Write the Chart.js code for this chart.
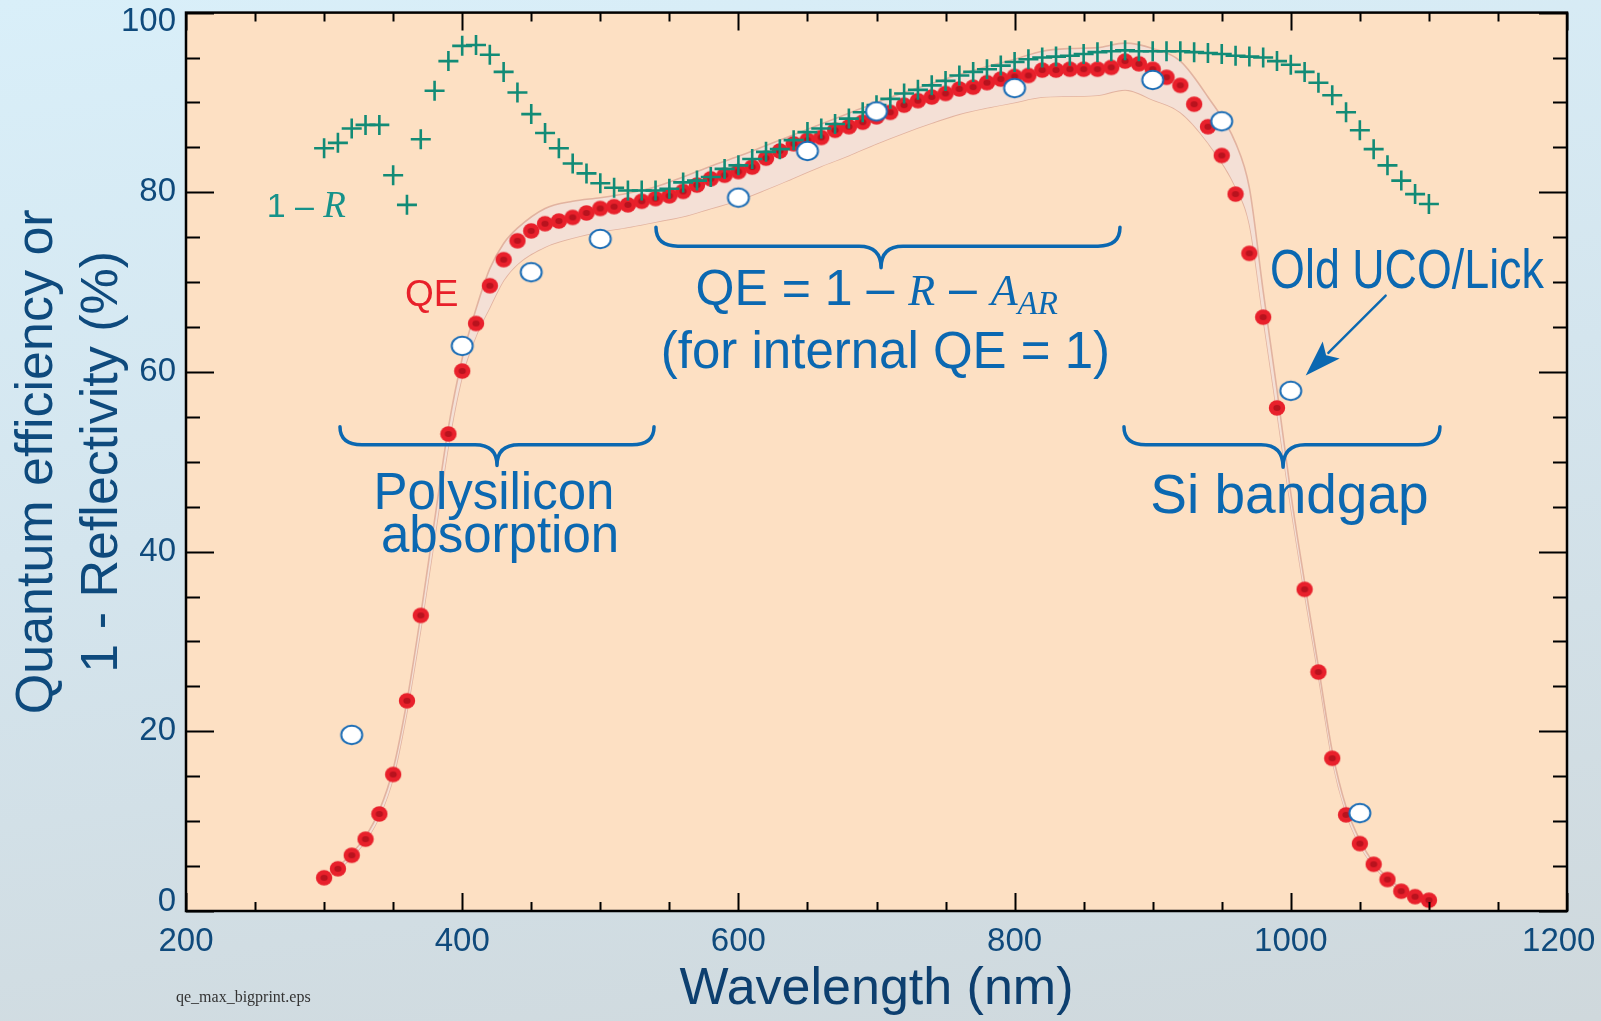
<!DOCTYPE html>
<html>
<head>
<meta charset="utf-8">
<script src="https://cdn.jsdelivr.net/npm/chart.js@4.4.0/dist/chart.umd.min.js"></script>
<style>
  html, body { margin: 0; padding: 0; }
  body {
    width: 1601px; height: 1021px; overflow: hidden;
    background: linear-gradient(172deg, #d9eff9 0%, #d4e5ee 45%, #cfd8dc 100%);
  }
  #wrap { position: relative; width: 1601px; height: 1021px; }
</style>
</head>
<body>
<div id="wrap"><canvas id="qeChart" width="1601" height="1021"></canvas></div>
<script>
// Wavelength grid (nm) of the measured curves
const wavelengths = [300, 310, 320, 330, 340, 350, 360, 370, 380, 390,
  400, 410, 420, 430, 440, 450, 460, 470, 480, 490,
  500, 510, 520, 530, 540, 550, 560, 570, 580, 590,
  600, 610, 620, 630, 640, 650, 660, 670, 680, 690,
  700, 710, 720, 730, 740, 750, 760, 770, 780, 790,
  800, 810, 820, 830, 840, 850, 860, 870, 880, 890,
  900, 910, 920, 930, 940, 950, 960, 970, 980, 990,
  1000, 1010, 1020, 1030, 1040, 1050, 1060, 1070, 1080, 1090, 1100];

// QE (%), red dots
const qeValues = [3.7, 4.7, 6.2, 8.0, 10.8, 15.2, 23.4, 32.9, null, 53.1,
  60.1, 65.4, 69.6, 72.5, 74.6, 75.7, 76.5, 76.8, 77.2, 77.7,
  78.2, 78.4, 78.6, 79.0, 79.3, 79.6, 80.1, 80.8, 81.5, 81.9,
  82.3, 82.8, 83.8, 84.6, 85.4, 85.8, 86.1, 86.9, 87.3, 87.8,
  88.4, 88.9, 89.7, 90.2, 90.6, 91.0, 91.5, 91.7, 92.2, 92.6,
  92.9, 93.0, 93.6, 93.6, 93.7, 93.7, 93.7, 93.9, 94.6, 94.3,
  93.7, 92.8, 91.9, 89.8, 87.3, 84.1, 79.8, 73.2, 66.1, 56.0,
  null, 35.8, 26.6, 17.0, 10.7, 7.5, 5.2, 3.5, 2.2, 1.6, 1.2];

// 1 - R (%), green crosses
const oneMinusR = [84.9, 85.5, 87.1, 87.5, 87.5, 81.9, 78.6, 85.9, 91.3, 94.6,
  96.3, 96.4, 95.3, 93.4, 91.1, 88.7, 86.6, 84.9, 83.2, 82.1,
  81.0, 80.5, 80.2, 80.2, 80.2, 80.4, 81.1, 81.3, 81.7, 82.6,
  83.0, 83.7, 84.5, 84.8, 85.8, 86.7, 87.1, 87.6, 88.2, 88.9,
  89.7, 90.4, 91.0, 91.4, 91.9, 92.4, 93.0, 93.4, 93.7, 94.1,
  94.5, 94.8, 95.0, 95.1, 95.2, 95.4, 95.6, 95.7, 95.8, 95.7,
  95.7, 95.7, 95.7, 95.6, 95.5, 95.4, 95.2, 95.1, 95.0, 94.6,
  94.2, 93.4, 92.2, 90.8, 88.9, 86.9, 84.8, 83.0, 81.3, 79.8, 78.7];

// Old UCO/Lick CCD (open circles)
const ucoWavelengths = [320, 400, 450, 500, 600, 650, 700, 800, 900, 950, 1000, 1050];
const ucoValues = [19.6, 62.9, 71.1, 74.8, 79.4, 84.6, 89.0, 91.6, 92.5, 87.9, 57.9, 10.9];

// 1 - R - A_AR band (upper / lower edge)
const bandWavelengths = [310, 320, 330, 340, 350, 360, 370, 380, 390, 400,
  410, 420, 430, 440, 460, 480, 500, 520, 540, 560,
  580, 600, 620, 640, 660, 680, 700, 720, 740, 760,
  780, 800, 820, 840, 860, 880, 900, 920, 940, 960,
  970, 980, 990, 1000, 1010, 1020, 1030, 1040, 1050, 1060, 1080, 1100];
const bandUpper = [4.9, 6.4, 8.3, 11.2, 15.8, 23.4, 33.0, 43.5, 53.8, 61.5,
  67.0, 71.5, 74.3, 76.0, 78.2, 79.0, 79.4, 79.9, 80.6, 81.7,
  82.9, 84.0, 85.2, 86.4, 87.6, 88.8, 90.0, 91.1, 92.1, 93.1,
  94.0, 94.8, 95.7, 96.0, 96.1, 96.6, 96.0, 94.6, 90.6, 85.5,
  80.5, 69.0, 58.0, 46.5, 36.6, 27.2, 17.8, 11.6, 7.9, 5.4, 2.5, 1.3];
const bandLower = [4.5, 6.0, 7.8, 10.5, 14.8, 22.2, 31.4, 41.5, 51.8, 59.5,
  64.0, 67.2, 70.2, 72.0, 73.9, 74.9, 75.6, 76.1, 76.7, 77.3,
  78.2, 79.1, 80.3, 81.6, 82.9, 84.1, 85.4, 86.6, 87.7, 88.7,
  89.4, 90.0, 90.6, 90.7, 90.8, 91.4, 90.3, 88.9, 85.5, 80.6,
  76.5, 66.0, 55.5, 45.0, 35.3, 26.2, 16.8, 10.9, 7.3, 5.0, 2.2, 1.1];

const xTicks = [200, 400, 600, 800, 1000, 1200];
const yTicks = [0, 20, 40, 60, 80, 100];

const SANS = "'Liberation Sans', Arial, Helvetica, sans-serif";
const SERIF = "'Liberation Serif', 'Times New Roman', serif";
const BLUE = '#0b68b1';

const toPoints = (xs, ys) => xs.map((x, i) => ({ x: x, y: ys[i] }));

// red dot with darker core
function makeDot() {
    const c = document.createElement('canvas');
    c.width = 18; c.height = 18;
    const g = c.getContext('2d');
    g.fillStyle = '#e8202b';
    g.beginPath(); g.ellipse(9, 9, 8.2, 7.7, 0, 0, Math.PI * 2); g.fill();
    g.fillStyle = '#b8131e';
    g.beginPath(); g.ellipse(9, 9, 3.6, 3, 0, 0, Math.PI * 2); g.fill();
    return c;
}

// white ellipse with blue rim
function makeRing() {
    const c = document.createElement('canvas');
    c.width = 26; c.height = 24;
    const g = c.getContext('2d');
    g.fillStyle = '#ffffff';
    g.strokeStyle = '#1b6db6';
    g.lineWidth = 2;
    g.beginPath(); g.ellipse(13, 12, 10.5, 9.3, 0, 0, Math.PI * 2); g.fill(); g.stroke();
    return c;
}

// peach plot background
const plotBg = {
    id: 'plotBg',
    beforeDatasetsDraw(chart) {
        const { ctx, chartArea: a } = chart;
        ctx.save();
        ctx.fillStyle = '#fde0c3';
        ctx.fillRect(a.left, a.top, a.right - a.left, a.bottom - a.top);
        ctx.restore();
    }
};

// braces, labels, arrow
const notes = {
    id: 'notes',
    afterDatasetsDraw(chart) {
        const { ctx, scales: { x, y } } = chart;
        const px = v => x.getPixelForValue(v);
        const py = v => y.getPixelForValue(v);

        const brace = (x1, x2, xc, yTip, yLine, yPoint) => {
            const X1 = px(x1), X2 = px(x2), XC = px(xc);
            const YT = py(yTip), YL = py(yLine), YP = py(yPoint);
            const r = 22;
            ctx.beginPath();
            ctx.moveTo(X1, YT);
            ctx.quadraticCurveTo(X1, YL, X1 + r, YL);
            ctx.lineTo(XC - r, YL);
            ctx.quadraticCurveTo(XC, YL, XC, YP);
            ctx.quadraticCurveTo(XC, YL, XC + r, YL);
            ctx.lineTo(X2 - r, YL);
            ctx.quadraticCurveTo(X2, YL, X2, YT);
            ctx.stroke();
        };

        ctx.save();
        ctx.strokeStyle = BLUE;
        ctx.lineWidth = 3.5;
        ctx.lineJoin = 'round';
        ctx.lineCap = 'round';
        brace(311.5, 538.9, 425.2, 53.9, 51.9, 49.6);
        brace(540.3, 876.3, 703.3, 76.1, 74.0, 71.6);
        brace(879.2, 1108, 994.4, 53.9, 51.9, 49.4);

        ctx.fillStyle = BLUE;
        ctx.textBaseline = 'alphabetic';
        ctx.textAlign = 'center';
        ctx.font = '51px ' + SANS;
        ctx.fillText('Polysilicon', px(423), py(44.8));
        ctx.fillText('absorption', px(427.4), py(40.0));
        ctx.fillText('(for internal QE = 1)', px(706.5), py(60.4));
        ctx.font = '55px ' + SANS;
        ctx.fillText('Si bandgap', px(999), py(44.3));

        // QE = 1 – R – A_AR
        ctx.textAlign = 'left';
        let cx = px(569);
        const by = py(67.4);
        const put = (s, font, dy) => {
            ctx.font = font;
            ctx.fillText(s, cx, by + (dy || 0));
            cx += ctx.measureText(s).width;
        };
        put('QE = 1 \u2013 ', '50px ' + SANS);
        put('R', 'italic 44px ' + SERIF);
        put(' \u2013 ', '50px ' + SANS);
        put('A', 'italic 44px ' + SERIF);
        put('AR', 'italic 33px ' + SERIF, 9);

        // Old UCO/Lick (condensed)
        ctx.save();
        ctx.translate(px(985), py(69.4));
        ctx.scale(0.8, 1);
        ctx.font = '56px ' + SANS;
        ctx.fillText('Old UCO/Lick', 0, 0);
        ctx.restore();

        // arrow
        const ax1 = px(1068.7), ay1 = py(68.5), ax2 = px(1010.8), ay2 = py(59.6);
        const ang = Math.atan2(ay2 - ay1, ax2 - ax1);
        const hl = 36, hw = 12;
        ctx.lineWidth = 2.4;
        ctx.beginPath();
        ctx.moveTo(ax1, ay1);
        ctx.lineTo(ax2 - Math.cos(ang) * (hl - 4), ay2 - Math.sin(ang) * (hl - 4));
        ctx.stroke();
        ctx.beginPath();
        ctx.moveTo(ax2, ay2);
        ctx.lineTo(ax2 - Math.cos(ang) * hl - Math.sin(ang) * hw, ay2 - Math.sin(ang) * hl + Math.cos(ang) * hw);
        ctx.lineTo(ax2 - Math.cos(ang) * hl * 0.8, ay2 - Math.sin(ang) * hl * 0.8);
        ctx.lineTo(ax2 - Math.cos(ang) * hl + Math.sin(ang) * hw, ay2 - Math.sin(ang) * hl - Math.cos(ang) * hw);
        ctx.closePath();
        ctx.fill();

        // 1 – R
        ctx.fillStyle = '#16928a';
        cx = px(258.4);
        const by2 = py(77.2);
        ctx.font = '34px ' + SANS;
        ctx.fillText('1 \u2013 ', cx, by2);
        cx += ctx.measureText('1 \u2013 ').width;
        ctx.font = 'italic 37px ' + SERIF;
        ctx.fillText('R', cx, by2);

        // QE
        ctx.fillStyle = '#e8202a';
        ctx.font = '37px ' + SANS;
        ctx.fillText('QE', px(358.6), py(67.3));
        ctx.restore();
    }
};

// frame with inward ticks on all four sides
const frame = {
    id: 'frame',
    afterDraw(chart) {
        const { ctx, chartArea: a, scales: { x, y } } = chart;
        ctx.save();
        ctx.strokeStyle = '#000';
        ctx.lineWidth = 2;
        ctx.beginPath();
        for (let v = 200; v <= 1200; v += 50) {
            const p = Math.round(x.getPixelForValue(v)) + 0.5;
            const len = v % 200 === 0 ? 18 : 9;
            ctx.moveTo(p, a.bottom); ctx.lineTo(p, a.bottom - len);
            ctx.moveTo(p, a.top); ctx.lineTo(p, a.top + len);
        }
        for (let v = 0; v <= 100; v += 5) {
            const p = Math.round(y.getPixelForValue(v)) + 0.5;
            const len = v % 20 === 0 ? 28 : 14;
            ctx.moveTo(a.left, p); ctx.lineTo(a.left + len, p);
            ctx.moveTo(a.right, p); ctx.lineTo(a.right - len, p);
        }
        ctx.stroke();
        ctx.lineWidth = 2.5;
        ctx.strokeRect(a.left, a.top, a.right - a.left, a.bottom - a.top);

        // file name tag
        ctx.fillStyle = '#333';
        ctx.font = '16px ' + SERIF;
        ctx.textBaseline = 'alphabetic';
        ctx.fillText('qe_max_bigprint.eps', 176, 1002);
        ctx.restore();
    }
};

const ctxEl = document.getElementById('qeChart');

new Chart(ctxEl, {
    type: 'scatter',
    data: {
        datasets: [
            {
                label: 'band lower',
                data: toPoints(bandWavelengths, bandLower),
                showLine: true,
                borderColor: '#e2b3a0',
                borderWidth: 1.6,
                pointRadius: 0,
                cubicInterpolationMode: 'monotone',
                fill: false,
                order: 4
            },
            {
                label: 'band upper',
                data: toPoints(bandWavelengths, bandUpper),
                showLine: true,
                borderColor: '#e2b3a0',
                borderWidth: 1.6,
                backgroundColor: '#f4e0d6',
                pointRadius: 0,
                cubicInterpolationMode: 'monotone',
                fill: '-1',
                order: 3
            },
            {
                label: 'QE',
                data: toPoints(wavelengths, qeValues),
                pointStyle: makeDot(),
                pointRadius: 8,
                order: 2
            },
            {
                label: '1 - R',
                data: toPoints(wavelengths, oneMinusR),
                pointStyle: 'cross',
                pointRadius: 10,
                pointBorderWidth: 2.6,
                borderColor: '#128b76',
                order: 1
            },
            {
                label: 'Old UCO/Lick',
                data: toPoints(ucoWavelengths, ucoValues),
                pointStyle: makeRing(),
                pointRadius: 11,
                order: 0
            }
        ]
    },
    options: {
        responsive: false,
        animation: false,
        layout: { padding: { left: 0, right: 34, top: 12, bottom: 0 } },
        plugins: {
            legend: { display: false },
            tooltip: { enabled: false }
        },
        scales: {
            x: {
                type: 'linear',
                min: 200,
                max: 1200,
                afterBuildTicks: s => { s.ticks = xTicks.map(v => ({ value: v })); },
                afterFit: s => { s.height = 110; s.paddingLeft = 0; s.paddingRight = 0; },
                grid: { display: false, drawTicks: false },
                border: { display: false },
                ticks: {
                    padding: 11,
                    color: '#0f4a7c',
                    font: { size: 33, family: SANS },
                    // last label kept inside the page, as in the original
                    callback: v => v === 1200 ? '1200\u2002' : String(v)
                },
                title: {
                    display: true,
                    text: 'Wavelength (nm)',
                    color: '#0d3f6f',
                    padding: { top: 0, bottom: 0 },
                    font: { size: 52, family: SANS, lineHeight: 1.2 }
                }
            },
            y: {
                type: 'linear',
                min: 0,
                max: 100,
                afterBuildTicks: s => { s.ticks = yTicks.map(v => ({ value: v })); },
                afterFit: s => { s.width = 186; s.paddingTop = 0; s.paddingBottom = 0; },
                grid: { display: false, drawTicks: false },
                border: { display: false },
                ticks: {
                    padding: 10,
                    color: '#0f4a7c',
                    font: c => ({
                        size: 33,
                        family: SANS,
                        lineHeight: (c.tick && (c.tick.value === 0 || c.tick.value === 100)) ? 0.55 : 1.2
                    }),
                    // end labels nudged inward like the original
                    callback: v => v === 100 ? ['', '100'] : (v === 0 ? ['0', ''] : String(v))
                },
                title: {
                    display: true,
                    text: ['Quantum efficiency or', '1 - Reflectivity (%)'],
                    color: '#0e4a7d',
                    padding: { top: 5, bottom: 0 },
                    font: { size: 52, family: SANS, lineHeight: 1.25 }
                }
            }
        }
    },
    plugins: [plotBg, notes, frame]
});
</script>
</body>
</html>
